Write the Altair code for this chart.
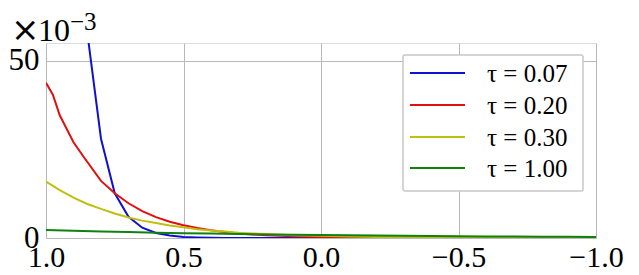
import altair as alt
import pandas as pd

# tau labels and colours
series = ["τ = 0.07", "τ = 0.20", "τ = 0.30", "τ = 1.00"]
colors = ["#1010d0", "#e01010", "#bfbf10", "#108010"]

# values (x10^-3)
x_blue = [1.0, 0.95, 0.9, 0.85, 0.8, 0.75, 0.7, 0.65, 0.6, 0.55, 0.5, 0.45, 0.4, 0.35, 0.3, 0.0, -0.5, -1.0]
y_blue = [450, 240, 120, 58, 28, 12.6, 6.0, 2.9, 1.4, 0.7, 0.3, 0.15, 0.07, 0.03, 0.01, 0.0, 0.0, 0.0]

x_red = [1.0, 0.975, 0.95, 0.9, 0.864, 0.8, 0.75, 0.7, 0.65, 0.6, 0.55, 0.5, 0.45, 0.4, 0.35, 0.3, 0.25, 0.2, 0.1, 0.0, -0.2, -0.5, -1.0]
y_red = [43.8, 40.4, 34.6, 27.0, 23.0, 16.1, 12.6, 9.8, 7.6, 5.9, 4.6, 3.6, 2.8, 2.2, 1.7, 1.3, 1.0, 0.8, 0.5, 0.3, 0.1, 0.02, 0.0]

x_yel = [1.0, 0.95, 0.9, 0.85, 0.8, 0.75, 0.7, 0.65, 0.6, 0.55, 0.5, 0.45, 0.4, 0.35, 0.3, 0.25, 0.2, 0.1, 0.0, -0.1, -0.2, -0.3, -0.5, -0.7, -1.0]
y_yel = [15.9, 13.5, 11.4, 9.6, 8.2, 6.9, 5.8, 4.9, 4.2, 3.5, 3.0, 2.5, 2.1, 1.8, 1.5, 1.3, 1.1, 0.8, 0.6, 0.4, 0.3, 0.2, 0.1, 0.05, 0.02]

x_grn = [1.0, 0.9, 0.8, 0.7, 0.6, 0.5, 0.4, 0.3, 0.2, 0.1, 0.0, -0.1, -0.2, -0.3, -0.4, -0.5, -0.6, -0.7, -0.8, -0.9, -1.0]
y_grn = [2.26, 2.05, 1.85, 1.67, 1.51, 1.37, 1.24, 1.12, 1.01, 0.92, 0.83, 0.75, 0.68, 0.61, 0.56, 0.50, 0.45, 0.41, 0.37, 0.34, 0.31]

x_ticks = [1.0, 0.5, 0.0, -0.5, -1.0]
y_ticks = [0, 50]

rows = []
for name, xs, ys in zip(series, [x_blue, x_red, x_yel, x_grn], [y_blue, y_red, y_yel, y_grn]):
    for i, (a, b) in enumerate(zip(xs, ys)):
        rows.append({"series": name, "x": a, "y": b, "order": i})
df = pd.DataFrame(rows)

FONT = "Liberation Serif"

lines = alt.Chart(df).mark_line(clip=True, strokeWidth=2).encode(
    x=alt.X("x:Q", scale=alt.Scale(domain=[1, -1], nice=False),
            axis=alt.Axis(values=x_ticks, format=".1f", title=None, labelFontSize=30,
                          labelFont=FONT, labelColor="black", ticks=False, domain=False,
                          grid=True, gridColor="#b8b8b8", gridWidth=1, labelPadding=4,
                          labelFlush=False)),
    y=alt.Y("y:Q", scale=alt.Scale(domain=[0, 55], nice=False),
            axis=alt.Axis(values=y_ticks, format="d", title=None, labelFontSize=31,
                          labelFont=FONT, labelColor="black", ticks=False, domain=False,
                          grid=True, gridColor="#b8b8b8", gridWidth=1, labelPadding=7,
                          labelFlush=False)),
    color=alt.Color("series:N", scale=alt.Scale(domain=series, range=colors),
                    sort=series, legend=None),
    detail="series:N",
    order="order:Q",
)

one = pd.DataFrame({"k": [0]})

def txt(s, size, x, y, font=FONT):
    return alt.Chart(one).mark_text(
        font=font, fontSize=size, align="left", baseline="alphabetic", color="black"
    ).encode(x=alt.value(x), y=alt.value(y), text=alt.value(s))

# offset text  x10^-3
layers = [lines, txt("×", 34, -35, -2, "DejaVu Sans"), txt("10", 32, -8, -2), txt("−3", 25, 24, -13)]

# legend box
layers.append(alt.Chart(one).mark_rect(fill="white", stroke="#c8c8c8", strokeWidth=1.5,
                                        cornerRadius=2).encode(
    x=alt.value(357), x2=alt.value(537), y=alt.value(12), y2=alt.value(148)))
row_y = [30, 62, 94, 125]
for name, col, ry in zip(series, colors, row_y):
    layers.append(alt.Chart(one).mark_rule(color=col, strokeWidth=2).encode(
        x=alt.value(364), x2=alt.value(419), y=alt.value(ry)))
    layers.append(txt(name, 25, 441, ry + 8.5))

chart = alt.layer(*layers).properties(
    width=550, height=195,
    autosize=alt.AutoSizeParams(type="none"),
    padding={"left": 46, "top": 43, "right": 43, "bottom": 37},
).configure_view(stroke="black", strokeWidth=1.5).configure(background="white")

chart.save("out.html", embed_options={"renderer": "svg", "actions": False})
